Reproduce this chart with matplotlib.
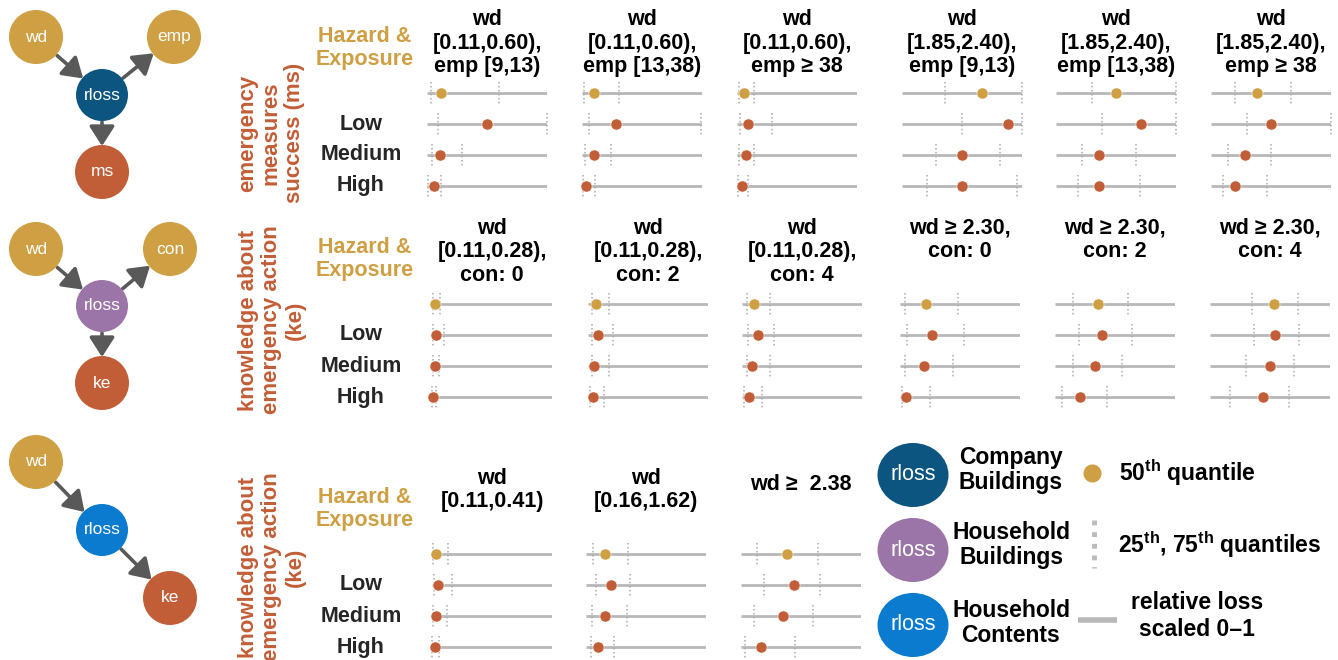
import matplotlib
matplotlib.use("Agg")
import matplotlib.pyplot as plt
from matplotlib.patches import Circle, Ellipse, FancyArrowPatch
import numpy as np

plt.rcParams['font.family'] = ['Liberation Sans', 'DejaVu Sans']
plt.rcParams['mathtext.fontset'] = 'custom'
plt.rcParams['mathtext.rm'] = 'Liberation Sans:bold'
plt.rcParams['mathtext.bf'] = 'Liberation Sans:bold'

# ---------------- data ----------------
row_labels = ["Low", "Medium", "High"]

ms_titles = ["wd\n[0.11,0.60),\nemp [9,13)", "wd\n[0.11,0.60),\nemp [13,38)", "wd\n[0.11,0.60),\nemp ≥ 38",
             "wd\n[1.85,2.40),\nemp [9,13)", "wd\n[1.85,2.40),\nemp [13,38)", "wd\n[1.85,2.40),\nemp ≥ 38"]
# each panel: [hazard&exposure, Low, Medium, High]
ms_median = [[0.12, 0.50, 0.105, 0.055], [0.096, 0.286, 0.096, 0.036], [0.06, 0.09, 0.072, 0.04],
             [0.67, 0.88, 0.50, 0.50], [0.50, 0.71, 0.36, 0.36], [0.38, 0.50, 0.28, 0.20]]
ms_q25 = [[0.03, 0.09, 0.045, 0.01], [0.017, 0.058, 0.028, 0.006], [0.02, 0.028, 0.02, 0.01],
          [0.36, 0.50, 0.28, 0.21], [0.30, 0.38, 0.22, 0.18], [0.20, 0.30, 0.14, 0.10]]
ms_q75 = [[0.60, 1.0, 0.29, 0.12], [0.306, 0.99, 0.245, 0.107], [0.14, 0.29, 0.14, 0.09],
          [1.0, 1.0, 0.82, 0.96], [1.0, 1.0, 0.67, 0.70], [0.67, 1.0, 0.50, 0.47]]

keb_titles = ["wd\n[0.11,0.28),\ncon: 0", "wd\n[0.11,0.28),\ncon: 2", "wd\n[0.11,0.28),\ncon: 4",
              "wd ≥ 2.30,\ncon: 0", "wd ≥ 2.30,\ncon: 2", "wd ≥ 2.30,\ncon: 4"]
keb_median = [[0.025, 0.036, 0.025, 0.005], [0.064, 0.083, 0.053, 0.044], [0.097, 0.13, 0.086, 0.058],
              [0.22, 0.27, 0.20, 0.05], [0.36, 0.39, 0.33, 0.21], [0.53, 0.54, 0.50, 0.44]]
keb_q25 = [[0.01, 0.01, 0.01, 0.0], [0.033, 0.033, 0.033, 0.014], [0.04, 0.047, 0.04, 0.02],
           [0.04, 0.06, 0.04, 0.02], [0.15, 0.20, 0.15, 0.06], [0.35, 0.37, 0.30, 0.17]]
keb_q75 = [[0.07, 0.10, 0.06, 0.036], [0.175, 0.21, 0.175, 0.13], [0.23, 0.27, 0.23, 0.17],
           [0.48, 0.53, 0.44, 0.25], [0.61, 0.64, 0.56, 0.43], [0.73, 0.74, 0.70, 0.66]]

kec_titles = ["wd\n[0.11,0.41)", "wd\n[0.16,1.62)", "wd ≥  2.38"]
kec_median = [[0.036, 0.047, 0.036, 0.025], [0.16, 0.21, 0.16, 0.10], [0.38, 0.44, 0.35, 0.17]]
kec_q25 = [[0.01, 0.017, 0.01, 0.0], [0.06, 0.08, 0.05, 0.04], [0.13, 0.19, 0.11, 0.03]]
kec_q75 = [[0.136, 0.167, 0.125, 0.06], [0.35, 0.37, 0.34, 0.23], [0.64, 0.66, 0.60, 0.45]]

# ---------------- style ----------------
W, H = 1338, 660
GOLD = "#CE9F43"
RUST = "#C25E37"
DBLUE = "#0B5580"
PURPLE = "#9B75A7"
BLUE = "#0A7BCF"
LINE = "#B8B8B8"
DOT = "#AAAAAA"
ARROW = "#595959"
TXT = "#262626"
FS = 15.5

fig = plt.figure(figsize=(W / 100, H / 100), dpi=100)
bg = fig.add_axes([0, 0, 1, 1])
bg.set_xlim(0, W)
bg.set_ylim(H, 0)
bg.axis('off')


def node(x, y, r, color, label):
    bg.add_patch(Circle((x, y), r, color=color, zorder=2, lw=0))
    bg.text(x, y, label, color="white", fontsize=12.5, ha="center", va="center", zorder=3)


def arrow(p1, r1, p2, r2):
    p1 = np.array(p1, float); p2 = np.array(p2, float)
    d = p2 - p1; d /= np.hypot(*d)
    a = p1 + d * (r1 + 1); b = p2 - d * (r2 - 1)
    bg.add_patch(FancyArrowPatch(a, b, arrowstyle="-|>,head_length=0.7,head_width=0.45",
                                 mutation_scale=17, color=ARROW, lw=2.6, zorder=1,
                                 shrinkA=0, shrinkB=0))


R = 27
# DAG 1
node(36, 37, R, GOLD, "wd"); node(174, 37, R, GOLD, "emp")
node(102, 95, 26, DBLUE, "rloss"); node(102, 172, R, RUST, "ms")
arrow((36, 37), R, (102, 95), 26); arrow((102, 95), 26, (174, 37), R); arrow((102, 95), 26, (102, 172), R)
# DAG 2
node(36, 249, R, GOLD, "wd"); node(170, 249, R, GOLD, "con")
node(102, 306, 26, PURPLE, "rloss"); node(102, 383, R, RUST, "ke")
arrow((36, 249), R, (102, 306), 26); arrow((102, 306), 26, (170, 249), R); arrow((102, 306), 26, (102, 383), R)
# DAG 3
node(36, 462, R, GOLD, "wd"); node(102, 530, 26, BLUE, "rloss"); node(170, 598, R, RUST, "ke")
arrow((36, 462), R, (102, 530), 26); arrow((102, 530), 26, (170, 598), R)

# Rotated group labels
lab_kw = dict(color=RUST, fontsize=16, fontweight="bold", rotation=90, ha="center", va="center",
              multialignment="center", linespacing=1.15)
bg.text(271, 133, "emergency\nmeasures\nsuccess (ms)", **lab_kw)
bg.text(272, 320, "knowledge about\nemergency action\n(ke)", **lab_kw)
bg.text(272, 567, "knowledge about\nemergency action\n(ke)", **lab_kw)

# Hazard & Exposure + row labels
for yh, y0 in [(48, 93), (259, 304), (509, 554)]:
    bg.text(365, yh, "Hazard &\nExposure", color=GOLD, fontsize=FS, fontweight="bold",
            ha="center", va="center", linespacing=1.15)
    for i, lab in enumerate(row_labels):
        bg.text(361, y0 + 31 * (i + 1), lab, color=TXT, fontsize=FS, fontweight="bold",
                ha="center", va="center")


def panel(x0, y0, med, q25, q75):
    top_px = y0 - 15.5
    ax = fig.add_axes([x0 / W, 1 - (top_px + 124) / H, 120 / W, 124 / H])
    ax.set_xlim(0, 1)
    ax.set_ylim(3.5, -0.5)
    ax.axis('off')
    for i in range(4):
        ax.plot([0, 1], [i, i], color=LINE, lw=2, solid_capstyle="butt", zorder=1)
        for q in (q25[i], q75[i]):
            ax.plot([q, q], [i - 0.37, i + 0.37], color=DOT, lw=1.1, ls=(0, (1, 1.6)),
                    clip_on=False, zorder=2)
        ax.plot(med[i], i, "o", ms=8, color=GOLD if i == 0 else RUST, mec="white", mew=0.4,
                clip_on=False, zorder=3)


def title(xc, yc, t):
    bg.text(xc, yc, t, color="black", fontsize=FS, fontweight="bold", ha="center", va="center",
            linespacing=1.13)


row1_x = [427, 582, 737, 902, 1056, 1211]
row2_x = [432, 588, 742, 900, 1055, 1210]
row3_x = [432, 586, 741]

for k, x0 in enumerate(row1_x):
    panel(x0, 93, ms_median[k], ms_q25[k], ms_q75[k])
    title(x0 + 60, 43, ms_titles[k])
for k, x0 in enumerate(row2_x):
    panel(x0, 304, keb_median[k], keb_q25[k], keb_q75[k])
    title(x0 + 60, 252 if k < 3 else 240, keb_titles[k])
for k, x0 in enumerate(row3_x):
    panel(x0, 554, kec_median[k], kec_q25[k], kec_q75[k])
    title(x0 + 60, 490 if k < 2 else 485, kec_titles[k])

# Legend
for yc, col in [(475, DBLUE), (550, PURPLE), (625, BLUE)]:
    bg.add_patch(Ellipse((913, yc), 71, 64, color=col, lw=0))
    bg.text(913, yc, "rloss", color="white", fontsize=15.5, ha="center", va="center")
leg_kw = dict(color="black", fontsize=16.5, fontweight="bold", ha="center", va="center", linespacing=1.15)
bg.text(1011, 470, "Company\nBuildings", **leg_kw)
bg.text(1012, 545, "Household\nBuildings", **leg_kw)
bg.text(1011, 623, "Household\nContents", **leg_kw)

bg.plot([1092], [473], "o", ms=12, color=GOLD)
bg.text(1119, 473, r"50$^{\rm th}$ quantile", color="black", fontsize=16.5, fontweight="bold",
        ha="left", va="center")
bg.plot([1094, 1094], [520, 568], color="#BBBBBB", lw=3.5, ls=(0, (1, 1.4)), solid_capstyle="butt")
bg.text(1118, 545, r"25$^{\rm th}$, 75$^{\rm th}$ quantiles", color="black", fontsize=16.5,
        fontweight="bold", ha="left", va="center")
bg.plot([1078, 1117], [620, 620], color=LINE, lw=4, solid_capstyle="butt")
bg.text(1197, 616, "relative loss\nscaled 0–1", color="black", fontsize=16.5, fontweight="bold",
        ha="center", va="center", linespacing=1.2)

fig.savefig("out.png", dpi=100)
